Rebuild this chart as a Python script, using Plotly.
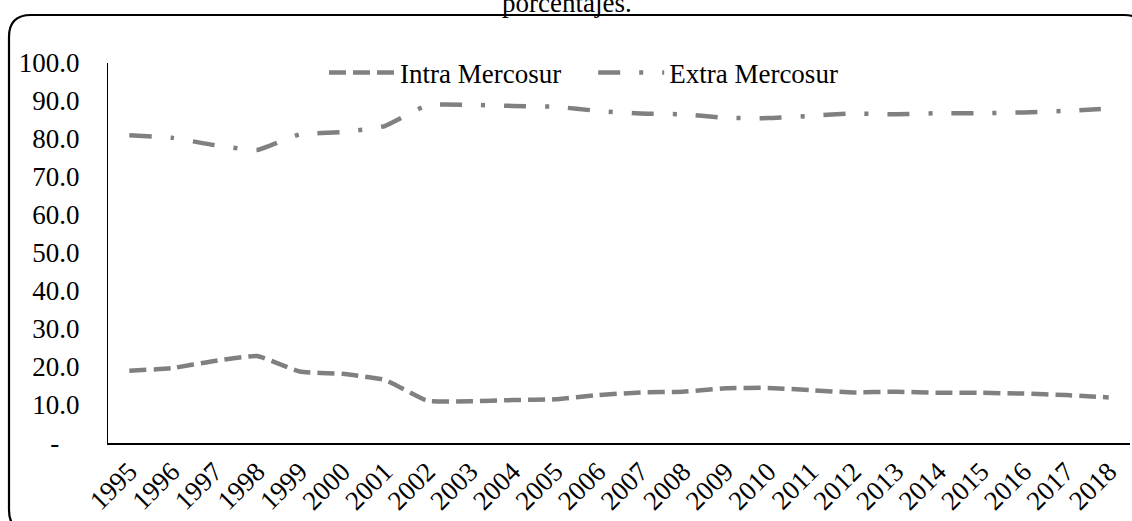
import plotly.graph_objects as go

years = [str(y) for y in range(1995, 2019)]
intra = [19.0, 19.7, 21.6, 22.9, 18.8, 18.2, 16.6, 11.1, 11.0, 11.3, 11.5, 12.6,
         13.3, 13.5, 14.4, 14.5, 13.9, 13.3, 13.5, 13.2, 13.2, 13.0, 12.6, 12.0]
extra = [81.0, 80.3, 78.4, 77.1, 81.2, 81.8, 83.4, 88.9, 89.0, 88.7, 88.5, 87.4,
         86.7, 86.5, 85.6, 85.5, 86.1, 86.7, 86.5, 86.8, 86.8, 87.0, 87.4, 88.0]
series_names = ["Intra Mercosur", "Extra Mercosur"]
ytick_vals = [0, 10, 20, 30, 40, 50, 60, 70, 80, 90, 100]
ytick_text = ["-\u00a0\u00a0\u00a0", "10.0", "20.0", "30.0", "40.0", "50.0", "60.0",
              "70.0", "80.0", "90.0", "100.0"]

W, H = 1132, 521
ML, MR, MT, MB = 108, 2, 63, 78
PW, PH = W - ML - MR, H - MT - MB

def px(x):
    return (x - ML) / PW

def py(y):
    return (H - MB - y) / PH

FONT = "Liberation Serif, Times New Roman, serif"
GRAY = "#808080"
FS = 27

fig = go.Figure()
fig.add_trace(go.Scatter(x=years, y=intra, mode="lines",
                         name=series_names[0] + "\u00a0" * 4,
                         line=dict(color=GRAY, width=4.5, dash="17px,7px",
                                   shape="spline", smoothing=0.4)))
fig.add_trace(go.Scatter(x=years, y=extra, mode="lines", name=series_names[1],
                         line=dict(color=GRAY, width=4.5, dash="22px,19px,4px,19px",
                                   shape="spline", smoothing=0.4)))

# rounded frame
x0, y0, x1, y1, r = 9, 15, 1146, 532, 22
rx, ry = r / PW, r / PH
X0, X1, Y0, Y1 = px(x0), px(x1), py(y0), py(y1)
path = (f"M{X0+rx},{Y0} L{X1-rx},{Y0} Q{X1},{Y0} {X1},{Y0-ry} "
        f"L{X1},{Y1+ry} Q{X1},{Y1} {X1-rx},{Y1} L{X0+rx},{Y1} "
        f"Q{X0},{Y1} {X0},{Y1+ry} L{X0},{Y0-ry} Q{X0},{Y0} {X0+rx},{Y0} Z")

fig.update_layout(
    width=W, height=H,
    margin=dict(l=ML, r=MR, t=MT, b=MB, autoexpand=False),
    paper_bgcolor="white", plot_bgcolor="white",
    font=dict(family=FONT, size=FS, color="black"),
    shapes=[dict(type="path", xref="paper", yref="paper", path=path,
                 line=dict(color="black", width=2.2), layer="above")],
    annotations=[dict(text="porcentajes.", xref="paper", yref="paper",
                      x=px(567), y=py(3), xanchor="center", yanchor="middle",
                      showarrow=False, font=dict(family=FONT, size=FS, color="black"))],
    legend=dict(orientation="h", x=px(324), xanchor="left", y=py(73), yanchor="middle",
                font=dict(family=FONT, size=FS), itemwidth=66, bgcolor="rgba(0,0,0,0)",
                tracegroupgap=0),
    showlegend=True,
)
fig.update_xaxes(type="category", range=[-0.5, 23.5], showgrid=False, showline=True,
                 linecolor="black", linewidth=2, tickangle=-45, ticks="",
                 tickfont=dict(family=FONT, size=FS), zeroline=False, automargin=False)
fig.update_yaxes(range=[0, 100], tickvals=ytick_vals, ticktext=ytick_text, showgrid=False,
                 showline=True, linecolor="black", linewidth=1.2, ticks="",
                 ticklabelstandoff=22, tickfont=dict(family=FONT, size=FS), zeroline=False,
                 automargin=False)

fig.write_html("out.html", config={"displayModeBar": False},
               post_script="document.body.style.margin='0';document.body.style.overflow='hidden';")
